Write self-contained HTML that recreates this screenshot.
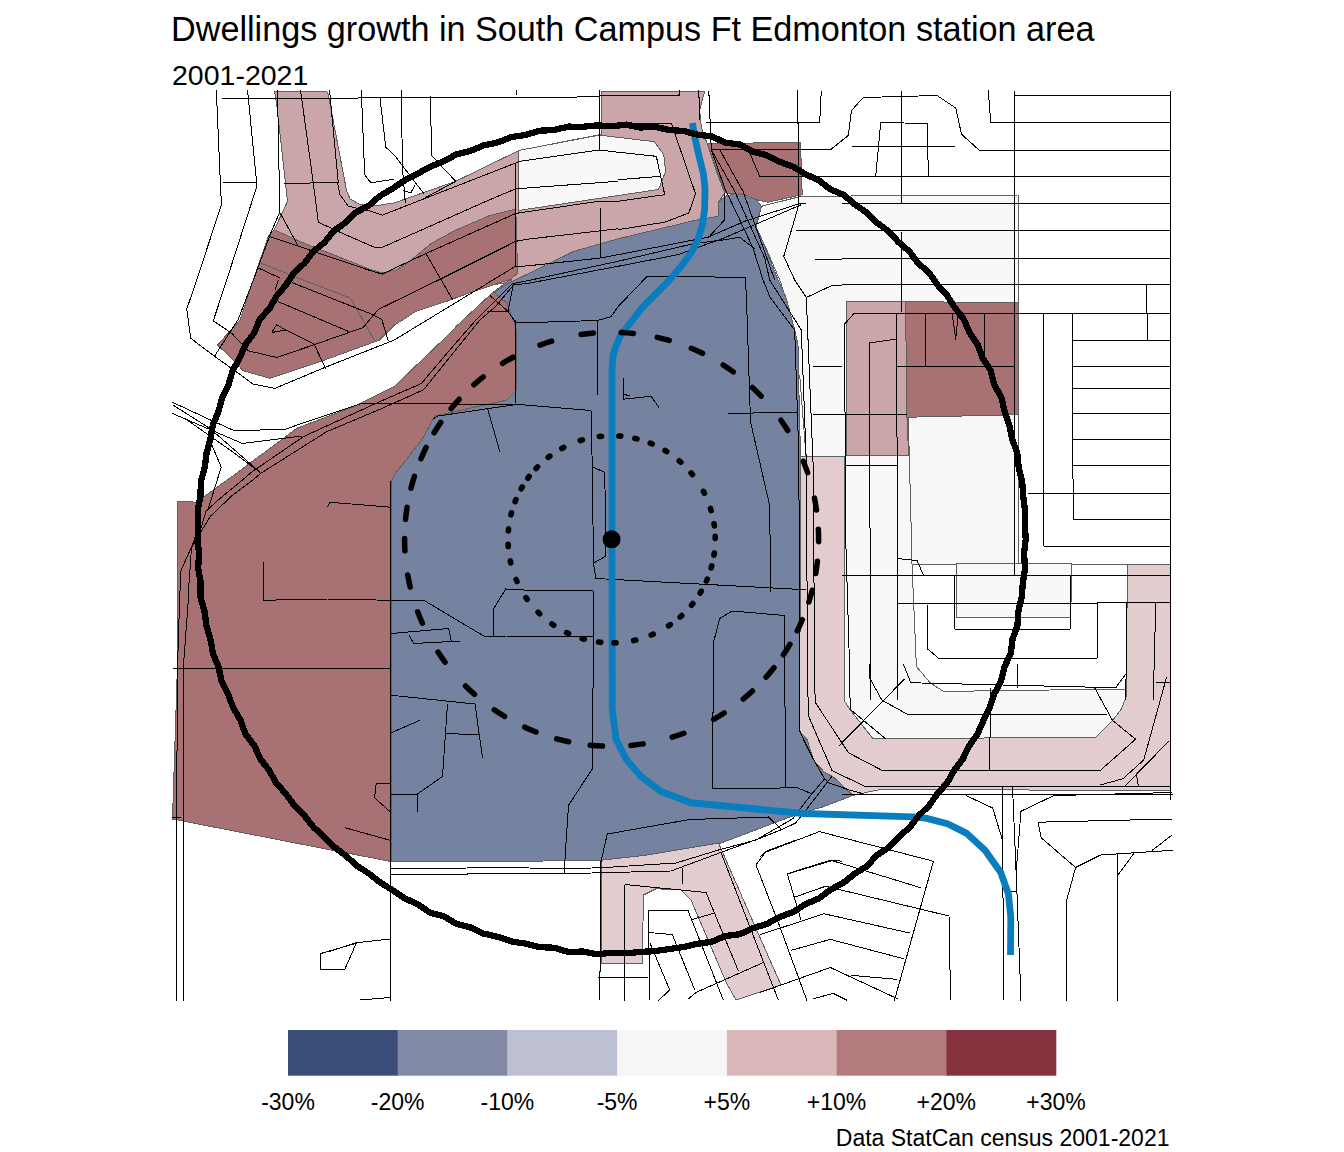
<!DOCTYPE html>
<html><head><meta charset="utf-8"><title>Dwellings growth</title>
<style>html,body{margin:0;padding:0;background:#fff;overflow:hidden}svg{display:block}</style>
</head><body>
<svg width="1344" height="1152" viewBox="0 0 1344 1152">
<rect width="1344" height="1152" fill="#ffffff"/>
<g id="polys" stroke-linejoin="round" shape-rendering="crispEdges">
<polygon points="761.3,206.3 801.3,196.3 1018.25,195 1018.25,563.5 1071.5,563.5 1071.5,617.25 1127,617 1127,739 873,739 849.5,709 844,700 844,456 806,456 799.75,376 798.5,375.5 793.5,328 781,283 766,248 756,228" fill="#f8f8f8" stroke="#5c6060" stroke-width="1"/>
<polygon points="912,564.3 1127,564.3 1127,689 943.5,691.4 930.3,683 916.4,666.4" fill="#ffffff" stroke="#5c6060" stroke-width="1"/>
<polygon points="956.5,563.5 1071.5,563.5 1070.8,617.3 956.5,617.3" fill="#f8f8f8" stroke="#5c6060" stroke-width="1"/>
<polygon points="846.5,301.75 905.75,301.75 908.25,455.5 846.5,455.5" fill="#caa5a9" stroke="#5c6060" stroke-width="1"/>
<polygon points="905.75,301.75 1018.25,302.5 1018.25,414.75 906.5,417.25" fill="#a87275" stroke="#5c6060" stroke-width="1"/>
<polygon points="799.75,456 844,456 844,700 849.5,709 873.25,739 1095.8,737 1112.5,720.4 1120.8,710 1126,697.5 1127.5,564.6 1170.8,564.6 1170.8,790.5 880,789.5 860.9,793.6 852.9,795.4 834.1,777.5 824.3,772.1 813.6,760.5 807.3,740 799.75,731.5" fill="#e3cccd" stroke="#5c6060" stroke-width="1"/>
<polygon points="274.5,91 326.25,91 328.3,94.7 346.7,191.3 350,198.8 360,204.7 377.5,205.5 394,203 455.7,181.3 519,150.5 601.75,134.25 601.75,91 704.75,91 699.7,109.7 700.5,121.3 702.2,129.7 707.2,143.8 714.7,166.3 724.7,193 718,203 718,216.3 600,245 530,272.9 509.7,282.6 505,283 380,300 274.2,229.7 282.5,212.2 287.5,201.3 276.7,103.8" fill="#caa5a9" stroke="#5c6060" stroke-width="1"/>
<polygon points="518.5,150.5 599.5,135.1 654.3,141.7 663.8,154.8 665.6,171.4 658.5,189.5 518.5,210.5" fill="#f8f8f8" stroke="#5c6060" stroke-width="1"/>
<polygon points="274.2,229.7 297.5,240.5 370,269.3 382.2,272.9 396.7,269.9 410.1,260.8 430.8,243.7 455.1,230.4 489.1,215.8 515.8,209.1 517.6,272.9 511,279 470.9,292.3 447.8,300.9 416.2,311.2 394.3,325.2 379.7,340 375,341.7 320,361.7 270,378.3 243.3,370.8 233.3,360 217.5,345 240,320 253.3,280 268.3,236.3" fill="#a87275" stroke="#5c6060" stroke-width="1"/>
<polygon points="707.2,143.8 800.5,142.2 802.2,194.7 768,202.2 756.3,199.7 744.7,194.7 726,193 716,168" fill="#a87275" stroke="#5c6060" stroke-width="1"/>
<polygon points="177.5,501 196.25,502.25 238.3,472 296.7,428.3 353.3,406.7 394,386.7 442.9,340 457.5,325.2 491.5,293.6 506.1,282.6 511,279 520,300 520,420 400,480 391,861.5 332.5,850.25 172.5,819 177.5,664" fill="#a87275" stroke="#5c6060" stroke-width="1"/>
<polygon points="509.7,282.6 530,272.9 574,251.3 618,238.8 698,219.7 718,216.3 718,203 724.7,196.3 734.7,193.8 744.7,194.7 756.3,199.7 761.3,206.3 758.8,216.3 755.5,226.3 761.3,238 778,280 786.3,298.3 794.7,330 798,345 798.8,386.7 800.5,455 799.75,731.5 807.3,740 813.6,760.5 824.3,772.1 834.1,777.5 852.9,795.4 822.5,807 797.5,814.1 718.5,844 646,855.25 601,860.25 506,861.5 391.25,861.5 392,480 395,474 421,441 435,416 507,400 516,391 517,340 515.8,326.4 511,315.4 507.3,303.3 493.9,292.3" fill="#7582a0" stroke="#5c6060" stroke-width="1"/>
<polyline points="260.8,263 303.3,280 350.8,298.3 375,341.7" fill="none" stroke="#5c6060" stroke-width="1"/>
<polyline points="908.25,417 911.5,540 912,564.3" fill="none" stroke="#5c6060" stroke-width="1"/>
<polygon points="601,860.25 646,855.25 718.5,843 752.25,920 781,985 736,1000 726,982 691,900 681,890 656,888.75 643.5,895 642.25,963.75 601,963.75" fill="#e3cccd" stroke="#5c6060" stroke-width="1"/>
</g>
<g id="roads" fill="none" stroke="#000" stroke-width="1" stroke-linejoin="round" shape-rendering="crispEdges">
<polyline points="222.2,98.3 345,98.3 394,97.2 573.2,97.2 599,96 679.75,95.5 679.75,90.5"/>
<polyline points="216.3,90 220.8,193 221.7,203.8 196.7,280 186.7,309.2 190.8,338.3 215,356.7 235,370.8 253.3,384.2 275,388.3 326.7,366.7 394.3,340"/>
<polyline points="247.5,90 256.7,183 256.3,188 226.7,280 213.3,320.8 231.7,333.3 248.3,350.8 276.7,357.5 313.3,345 363.3,327.5 370,319.1 378.5,309.4 440.5,279 515.8,241.3 530,238.9 618,228.8"/>
<polyline points="223,182.5 256.7,182.5"/>
<polyline points="277.5,90 279.2,179.7 279.7,212.2 270.8,233 253.3,280 238.3,319.2 214.2,356.7"/>
<polyline points="279.7,212.2 297.5,244.7"/>
<polyline points="300.5,90 313.3,183 318.3,222.2 341.7,233 374.2,247.2 382.2,247.4 489.1,200 515.7,188.8 618,181.3"/>
<polyline points="284.2,183.3 337.5,182.7 340,194.7 348.3,206.3 370,210.9 382.2,215.2 421,200 455.7,181.3"/>
<polyline points="329.5,90 338.3,182.7"/>
<polyline points="361.3,90 364.7,174.7 370.8,182.7 394,179.3"/>
<polyline points="380,98 385.8,147.2 394,154.7 424,193.8"/>
<polyline points="268.3,236 370,270.5 382.2,274.1 425.9,253.5 515.8,213.4 599,201.3 618,201.3"/>
<polyline points="425.9,253.5 452.6,299.6"/>
<polyline points="258.3,268 280,278"/>
<polyline points="401.5,90 402.3,166.3 405.3,203"/>
<polyline points="430.7,96.3 431,125.5 431.5,155.5 455.7,181.3"/>
<polyline points="403.2,190.5 410.7,193 414.8,185.5"/>
<polyline points="516.5,90 516.5,94.7"/>
<polyline points="599.3,90 599.3,149.7"/>
<polyline points="394,210.5 515.7,163 519.8,161.3 599,150 618,152.2 656.3,156.3 664.7,194.7 618,201.3"/>
<polyline points="515.7,163 515.7,267.2"/>
<polyline points="600.7,208 600.7,258"/>
<polyline points="618,179.7 661.3,176.3"/>
<polyline points="291.7,282.5 371.7,314.2 381.7,319.2 388.3,340.8"/>
<polyline points="278.3,301.7 349.2,331.7"/>
<polyline points="271.7,332.5 276.7,324.7 285.8,330 271.7,332.5"/>
<polyline points="285.8,330 314.2,344.2 325.8,369.2"/>
<polyline points="278.3,280 275,290"/>
<polyline points="172.5,402.25 210,419.75 235,431 286.25,429 305,422.25 350,407.25 360,404 441.9,403.1"/>
<polyline points="172.5,413.5 242.5,443.5 302.5,436"/>
<polyline points="172.5,404.75 210,428.5 260,472.25"/>
<polyline points="185,418.5 230,450 260,472.25"/>
<polyline points="211.25,443.5 221.25,467.25 207.5,511"/>
<polyline points="530,280.2 512.2,283.8 491.5,304.5 476,320 452.5,346.8 421.3,383.6 380,401.5 303.3,436.7 251.7,472 242.5,480 219.6,498.75 206,511.25 200.8,529 193.5,542.5 181,570.6 179.6,600 177.5,668 176.5,840 176.5,1000.5"/>
<polyline points="513.4,285.1 495.2,306.9 479.9,320 453.7,352.4 423.5,389.8 380,409.3 326.7,431.7 260.8,473.3 252.9,480 232.1,495.6 210.2,516.5 200.8,532 191.5,547.7 188.9,584.2 188.3,600 183.3,668 183.3,1000.5"/>
<polyline points="486.6,311.2 507.9,311.2 489.7,295.4"/>
<polyline points="507.9,311.2 513.4,283.8"/>
<polyline points="507.9,311.2 515.8,322.7 530,322.7"/>
<polyline points="618,95.5 678.8,95.5 679.7,90.5"/>
<polyline points="698.8,90.5 699.7,120"/>
<polyline points="708.8,90.5 711.3,149.7 724.7,188 753,248 763,280 770,297 794.7,330 798.8,455 799.75,664 800,731.5 803.75,740 813.6,759.6 824.3,778.4 828.75,782.9 849.3,790 862.7,793.6"/>
<polyline points="711.3,149.7 734.7,191.3 764.7,258 769.7,280 801.3,330 806.3,462"/>
<polyline points="719.7,149.7 743,191.3 774.7,280"/>
<polyline points="705.5,122.2 819.7,122.2 821.3,90.5"/>
<polyline points="797.7,90.5 798.8,204.7 783.8,256.3 794.7,280 806.3,297.5 813,462"/>
<polyline points="711.3,149.7 830.5,149.7 842,140.5"/>
<polyline points="749.7,153 759.7,176.3 842,176.3"/>
<polyline points="796.3,230.5 842,230.5"/>
<polyline points="814.7,259.3 842,259.3"/>
<polyline points="806.3,297.5 831.3,285.8 842,285.8"/>
<polyline points="813,366.3 842,366.3"/>
<polyline points="813,414.2 842,414.2"/>
<polyline points="674.7,133 695.5,193.8 688.8,213 664.7,222.2 618,229.7"/>
<polyline points="618,123 671.3,123 674.7,133"/>
<polyline points="618,152.2 618,152.2"/>
<polyline points="394.3,340 514.6,266.8 530,265.6 600,258.1 618,254.7 708,237.2 744.7,221.3 801.3,203 806.3,203.8"/>
<polyline points="530,280.2 618,261.3 693,243.8 718,240.5 801.3,204.7"/>
<polyline points="513.4,285.1 530,283 618,266.3 678,254.7 714.7,241.3 739.7,237.2 754.7,248.8"/>
<polyline points="708,238 724.7,219.7 724.7,193"/>
<polyline points="618,306.7 647.2,276.3 695.5,276.7 745.5,277.5 747.2,320 750.5,421.7 759.7,462 769.75,506 770.5,592.25"/>
<polyline points="728,413.3 798,412.5"/>
<polyline points="623.8,378.3 623,399.2 651.3,396.3 658.8,407.5"/>
<polyline points="623,394 630,396"/>
<polyline points="506,406 515.5,404.25 591,410.5 592.25,466 593.5,563.5 596,578.5 806,589.75"/>
<polyline points="593,467.25 604.75,472.25 606,556 593,563.5"/>
<polyline points="516,323 597.25,320.5 611,316.75 618,306.7"/>
<polyline points="597.25,320.5 597.25,394.75"/>
<polyline points="515,320 515.5,403.5"/>
<polyline points="506,589.75 593.5,591 593.5,636 543.5,636.5 506,636"/>
<polyline points="593.5,636 592.25,769 568.5,805.25 564,874"/>
<polyline points="713.5,642.25 719.75,618.5 732.25,611 784.75,615.5 784.75,664 785.5,787.75"/>
<polyline points="713.5,642.25 713.5,664 712.25,789 797.25,787.75 812.25,794"/>
<polyline points="441.9,403.1 460.4,404.8 513.9,404.8"/>
<polyline points="487.5,408.5 500,452.25"/>
<polyline points="327.5,507.25 330,502.25 391.25,507.25"/>
<polyline points="263.75,562.25 263.75,600.25 327.5,599 425,601 483.75,636 506,636"/>
<polyline points="391.25,633.5 448.75,628.5 451.25,641.5 413.75,643.5 408.75,634.75"/>
<polyline points="451.25,641.5 460,641"/>
<polyline points="493.75,636 493.75,608.5 506,588.5"/>
<polyline points="432.5,419.3 438,416 513.9,404.8"/>
<polyline points="172.5,668.5 390,668.5"/>
<polyline points="172.3,817.3 180.6,817.3"/>
<polyline points="390.5,481 390.5,1000.5"/>
<polyline points="391.25,695.25 475,704 482.5,757.75"/>
<polyline points="447.5,704 442.5,776.5 417.5,794 391.25,794"/>
<polyline points="445,733.5 480,734.75"/>
<polyline points="391.25,732.75 420,720.25"/>
<polyline points="417,794 417,811.5"/>
<polyline points="390,783.5 376.25,783.5 374.5,797.75 390,811.5"/>
<polyline points="345,827.75 390,840.25"/>
<polyline points="390.5,869 506,867.5 563.5,868.75 601,867.75 676,863 718.5,850 756,840 793,818.6 802.9,805.2 813.6,791.8 824.3,779.3"/>
<polyline points="390.5,874.5 506,873.75 563.5,873.75 601,872.75 671,871 723.5,851.5 760,838.2 782.3,829.3 795.7,823 802,815 809.1,806.1 832.3,775.7"/>
<polyline points="327.5,952 356.25,942.75 390,939"/>
<polyline points="320,953.75 356.25,943.25"/>
<polyline points="356.25,943.25 344.5,970 320.5,969.5 320,953.75"/>
<polyline points="360,1000 390,997.5"/>
<polyline points="607.25,834 689.75,819.5 768.5,817 782.25,830.25"/>
<polyline points="607.25,834 601,861.5 599.75,1000.5"/>
<polyline points="598.5,977 648.5,977.5"/>
<polyline points="624.75,884.5 624.75,1000.5"/>
<polyline points="624.75,884.5 706,892.5 738.5,971.25"/>
<polyline points="682.25,867.5 682.25,884"/>
<polyline points="648.5,910.5 688,910.5 723.5,1000.5"/>
<polyline points="648.5,910.5 649.75,1000.5"/>
<polyline points="648.5,932.5 672.25,934.5 694.75,990"/>
<polyline points="649.75,942.5 669.75,990 658.5,1000.5"/>
<polyline points="692.25,919.5 714.75,913"/>
<polyline points="721,852.5 778.5,1000.5"/>
<polyline points="688.5,998.75 696,992.5 763.5,962.5"/>
<polyline points="756,865 766,851.25 796,840"/>
<polyline points="756,865 778.75,923.75 806.9,1000.5"/>
<polyline points="787.25,873.75 831,860 842,861.25"/>
<polyline points="787.25,873.75 801,920"/>
<polyline points="794.4,897.2 825.6,886.25 949,916 950.6,1000.5"/>
<polyline points="760,856.6 766.25,851.9 819.4,831.6 933.4,861.25 894.4,1000.5"/>
<polyline points="788.1,873.75 831.9,860.6 921,887.8"/>
<polyline points="760,934.7 824,913.75 910,933.1"/>
<polyline points="791.25,950.3 830.3,939.4 903.75,958.75"/>
<polyline points="760,992.5 830.3,967.5 897.5,998.75"/>
<polyline points="850.6,975.3 897.5,979.4"/>
<polyline points="813.1,998.75 833.4,993.4 847.5,1000.5"/>
<polyline points="1002.2,786.25 1003.75,1000.5"/>
<polyline points="1012.5,786.25 1016.9,891 1021,1000.5"/>
<polyline points="966.25,795.6 992.8,808.1 1002.2,839.4"/>
<polyline points="1021,811.25 1016.25,870.6"/>
<polyline points="1021,811.25 1053.75,795.6 1172.5,792.5"/>
<polyline points="842,794 1172.5,794"/>
<polyline points="1038.1,822.2 1172.5,819"/>
<polyline points="1038.1,822.2 1041.25,837.8 1075.6,867.5 1100.6,855 1172.5,850.3"/>
<polyline points="1075.6,867.5 1066.25,901.9 1066.25,1000.5"/>
<polyline points="1117.8,853.4 1117.8,1000.5"/>
<polyline points="1117.8,875.3 1135,851.9"/>
<polyline points="1152.2,850.3 1172.5,834.7"/>
<polyline points="1008.4,891 1016.9,891"/>
<polyline points="842,140.5 848.25,135.5 851.5,110.5 863.25,97.5 937,95.5 955.75,108 961.5,134.25 979,150 1170,150"/>
<polyline points="875.75,176 880.75,122.5 927.5,123.5 928.25,176"/>
<polyline points="852,146.25 954.5,146.25"/>
<polyline points="901.5,90.5 901.5,204.25"/>
<polyline points="901.5,231.75 901.5,311.75"/>
<polyline points="1014.5,90.5 1014.5,575"/>
<polyline points="1170,90.5 1170,308 1170.75,664 1170.75,800"/>
<polyline points="1014.5,95.5 1170,95.5"/>
<polyline points="988.25,90.5 990.75,122.25 1170,122.25"/>
<polyline points="842,176.25 1170,176.25"/>
<polyline points="842,203.5 1170,203.5"/>
<polyline points="842,230.5 1170,230.5"/>
<polyline points="842,259 1170,258.5"/>
<polyline points="842,284.75 1170,284.75"/>
<polyline points="854.5,313 1170,313"/>
<polyline points="854.5,313 844.5,324.25 845.75,540 849.5,664 850.2,709.4 885.8,739"/>
<polyline points="1146.5,284.75 1146.5,313"/>
<polyline points="1147.5,313 1147.5,340.5"/>
<polyline points="1072,340.5 1170,340.5"/>
<polyline points="1072,366.75 1170,366.75"/>
<polyline points="1072,313 1073.25,519 1170.75,519"/>
<polyline points="1043.25,313 1044,546 1170.75,546"/>
<polyline points="984.5,313 984.5,366.75"/>
<polyline points="925.75,313 925.75,366.75"/>
<polyline points="897,366.75 1014.5,366.75"/>
<polyline points="896.5,313 897.5,558.5 897.5,700"/>
<polyline points="869,343 895.75,339.25"/>
<polyline points="869,343 870.75,664 871,700"/>
<polyline points="952,313 955.75,339.25 958.25,313"/>
<polyline points="1072,388.5 1170,388.5"/>
<polyline points="1072,413 1170,413"/>
<polyline points="1072,439.25 1170,439.25"/>
<polyline points="1072,465.25 1170,465.25"/>
<polyline points="1028.25,493 1170.75,493"/>
<polyline points="842,414.75 906.5,414.75"/>
<polyline points="845.75,465.5 897,465.5"/>
<polyline points="897.5,558.5 917,560.5 923.25,574.75"/>
<polyline points="842,575.25 1170.75,575.25"/>
<polyline points="897.5,604 1097,603 1170.75,602.25"/>
<polyline points="954.5,576 954.5,629 1070,629 1070.75,574.75"/>
<polyline points="927,604.75 927,648.5 938.25,658 1097,658 1097,603"/>
<polyline points="1127,602.25 1125.75,700"/>
<polyline points="1155.75,603.5 1153.25,700"/>
<polyline points="806.3,462 807.5,664 808.3,715.6 832.1,770.7 866.3,787 1170.8,786.5"/>
<polyline points="813,462 814.7,664 815.1,702.2 848.5,752.8 882.7,770.7 1100,770.7 1135.6,739.2 1112.5,720.4 1094.8,688.1"/>
<polyline points="869.5,664 869.5,677.75 882,700.25 907,714 1107,714"/>
<polyline points="903.25,664 910.75,682.75 1115.75,687.75 1125.75,674"/>
<polyline points="838.9,745.9 904.5,679"/>
<polyline points="990.75,687.75 989.5,770.25"/>
<polyline points="1017,664 1017,687.75"/>
<polyline points="1166.7,676.7 1143.75,760 1122.9,778.75 1100,785"/>
<polyline points="1168.75,741.25 1125,786"/>
<polyline points="1136.5,774.6 1138.5,787"/>
<polyline points="1155.75,682.75 1170.75,682.75"/>
</g>
<polyline points="692.5,123 694.6,136.7 699.4,157.5 703.5,174.2 705,188.75 704.6,209.6 702.5,224.2 698.3,238.75 692.1,251.25 681.7,265.8 669.2,280.4 654.6,295 642.1,307.5 632.6,320 624,331 619.8,337.1 615.5,347 613,356 612,370 612,540 612.25,709 616,739 626,759 641,776.5 661,791.5 691,802.75 756,809 803.5,813.5 913.1,816.9 925.6,818.1 947.5,823.75 966.25,833.1 985,850.3 1000.6,872.2 1008.4,894 1010.8,917.5 1010.5,955" fill="none" stroke="#0a7dbe" stroke-width="6.8" stroke-linejoin="round"/>
<polygon points="1025.73,539.3 1023.99,553.7 1025.1,568.21 1022.87,582.53 1021.76,596.94 1018.43,611.04 1017.42,625.56 1012.52,639.26 1010.68,653.73 1004.41,666.93 1001.13,681.08 994.25,693.9 989.77,707.67 983.38,720.63 977.54,733.87 969.23,745.78 962.87,758.8 954.18,770.38 947.08,783.04 937.37,793.82 929.03,805.66 918.64,815.76 909.76,827.23 898.87,836.78 889.01,847.39 876.71,855.24 866.98,866.17 854.62,873.78 843.35,882.88 830.49,889.59 818.96,898.46 805.55,904.07 793.36,911.97 779.73,916.93 766.97,923.86 753.1,928.07 739.91,934.2 725.36,936.03 711.92,941.68 697.57,943.78 683.49,946.99 669.19,949.07 654.88,951.11 640.45,951.93 626.06,953.29 611.6,952.83 597.11,954.27 582.77,951.56 568.23,951.92 554.19,947.77 539.69,947.11 525.65,943.64 511.34,941.44 497.63,936.77 483.49,933.59 470.34,927.42 456.23,923.84 443.78,916.23 429.59,912.48 417.62,904.13 404.38,898.21 392.41,890.07 380.18,882.39 368.8,873.48 356.69,865.57 345.99,855.85 334.47,847.09 324.06,837.05 313.54,827.13 304.52,815.8 294.36,805.5 285.83,793.82 276.2,782.98 269.12,770.31 260.29,758.82 254.28,745.6 245.44,733.99 240.57,720.26 233.23,707.76 228.08,694.25 221.54,681.27 218.59,667 213.03,653.59 210.44,639.32 206.44,625.42 204.45,611.09 200.45,597.08 200.68,582.49 198.19,568.21 199.03,553.71 197.57,539.3 198.29,524.87 197.7,510.36 200.53,496.09 200.81,481.57 204.75,467.56 206.56,453.21 210.39,439.27 212.81,424.95 218.46,411.56 222.14,397.55 228.53,384.53 232.67,370.59 239.75,357.94 245.36,344.57 254.18,332.94 259.67,319.39 269.47,308.53 276.68,295.97 286.01,284.92 293.95,272.76 304.7,262.97 313.4,251.33 324.72,242.22 333.83,230.8 345.74,222.47 356.14,212.33 369.05,205.46 379.97,195.9 392.49,188.66 404.43,180.46 417.3,173.87 429.91,166.79 443.4,161.53 456.15,154.55 470.27,151 483.62,145.42 497.79,142.38 511.32,137.08 525.65,134.92 539.56,130.76 554.07,129.99 568.23,126.63 582.75,126.76 597.14,125.35 611.6,126.32 626.08,124.63 640.4,127.49 654.95,126.86 669.13,129.95 683.6,130.99 697.6,134.7 712.03,136.49 725.33,142.68 739.87,144.51 752.7,151.62 766.79,155.2 779.69,161.77 793.29,166.79 805.66,174.32 818.88,180.28 830.3,189.31 843.88,194.94 854.86,204.49 866.81,212.65 877.16,222.82 888.81,231.43 898.5,242.2 909.55,251.57 918.17,263.26 929.2,272.8 937.35,284.79 947.12,295.53 954.83,307.79 963.8,319.22 969.49,332.67 977.62,344.69 982.79,358.26 990.69,370.52 994.25,384.7 1001.35,397.44 1004.7,411.57 1009.42,425.23 1012.3,439.39 1017.26,453.07 1018.7,467.52 1022.22,481.59 1023.21,496.04 1025.01,510.39 1024.92,524.87" fill="none" stroke="#000" stroke-width="6.3" stroke-linejoin="miter" stroke-miterlimit="2" shape-rendering="crispEdges"/>
<g fill="none" stroke="#000" stroke-width="5.5" stroke-linecap="round"><path d="M621.21 332.52A207 207 0 0 1 633.45 333.46"/><path d="M657.28 337.40A207 207 0 0 1 669.18 340.47"/><path d="M691.35 348.28A207 207 0 0 1 702.54 353.34"/><path d="M723.19 364.95A207 207 0 0 1 733.33 371.88"/><path d="M752.38 387.54A207 207 0 0 1 761.13 396.16"/><path d="M780.96 420.27A207 207 0 0 1 787.72 430.53"/><path d="M803.31 461.22A207 207 0 0 1 807.60 472.73"/><path d="M814.42 497.92A207 207 0 0 1 816.52 510.03"/><path d="M818.36 529.37A207 207 0 0 1 818.59 541.65"/><path d="M817.43 561.30A207 207 0 0 1 815.76 573.46"/><path d="M812.25 590.18A207 207 0 0 1 808.88 601.99"/><path d="M802.34 619.72A207 207 0 0 1 797.24 630.89"/><path d="M789.94 644.39A207 207 0 0 1 783.39 654.78"/><path d="M773.98 667.68A207 207 0 0 1 766.08 677.08"/><path d="M752.40 691.03A207 207 0 0 1 743.16 699.12"/><path d="M724.16 713.02A207 207 0 0 1 713.66 719.39"/><path d="M683.86 733.28A207 207 0 0 1 672.22 737.22"/><path d="M643.13 743.89A207 207 0 0 1 630.94 745.39"/><path d="M602.46 746.10A207 207 0 0 1 590.21 745.19"/><path d="M568.63 741.79A207 207 0 0 1 556.70 738.89"/><path d="M536.04 732.02A207 207 0 0 1 524.74 727.19"/><path d="M504.55 716.47A207 207 0 0 1 494.23 709.81"/><path d="M474.52 694.41A207 207 0 0 1 465.56 686.00"/><path d="M445.03 662.20A207 207 0 0 1 438.03 652.10"/><path d="M422.38 623.23A207 207 0 0 1 417.73 611.86"/><path d="M410.19 587.10A207 207 0 0 1 407.71 575.07"/><path d="M404.92 550.82A207 207 0 0 1 404.60 538.54"/><path d="M405.55 519.50A207 207 0 0 1 407.09 507.31"/><path d="M411.00 488.21A207 207 0 0 1 414.39 476.40"/><path d="M420.97 458.62A207 207 0 0 1 426.09 447.45"/><path d="M434.13 432.75A207 207 0 0 1 440.76 422.41"/><path d="M451.12 408.55A207 207 0 0 1 459.15 399.27"/><path d="M473.84 384.79A207 207 0 0 1 483.25 376.90"/><path d="M502.52 363.37A207 207 0 0 1 513.15 357.21"/><path d="M539.95 345.09A207 207 0 0 1 551.60 341.19"/><path d="M581.18 334.55A207 207 0 0 1 593.38 333.10"/></g>
<g fill="none" stroke="#000" stroke-width="5.6" stroke-linecap="round"><path d="M618.65 435.94L620.81 436.11"/><path d="M634.90 438.36L637.01 438.87"/><path d="M650.24 443.18L652.25 444.01"/><path d="M664.96 450.50L666.81 451.63"/><path d="M679.23 460.82L680.85 462.25"/><path d="M691.08 472.85L692.45 474.52"/><path d="M703.41 491.30L704.40 493.24"/><path d="M710.51 508.49L711.14 510.57"/><path d="M714.02 523.74L714.33 525.89"/><path d="M715.15 536.23L715.20 538.40"/><path d="M714.29 552.98L713.98 555.13"/><path d="M711.74 565.85L711.16 567.94"/><path d="M707.28 579.03L706.43 581.02"/><path d="M701.27 591.18L700.17 593.04"/><path d="M692.86 603.57L691.49 605.25"/><path d="M681.71 615.57L680.10 617.02"/><path d="M670.35 624.63L668.55 625.84"/><path d="M653.21 634.18L651.21 635.03"/><path d="M635.75 640.05L633.63 640.53"/><path d="M616.06 642.80L613.90 642.87"/><path d="M600.72 642.33L598.56 642.08"/><path d="M584.30 639.24L582.21 638.64"/><path d="M568.56 633.53L566.59 632.61"/><path d="M553.74 625.24L551.96 624.01"/><path d="M539.67 613.86L538.13 612.34"/><path d="M527.19 599.37L525.96 597.59"/><path d="M516.98 581.49L516.12 579.50"/><path d="M510.75 562.99L510.27 560.88"/><path d="M508.25 546.53L508.12 544.36"/><path d="M508.33 530.99L508.53 528.83"/><path d="M510.93 514.83L511.46 512.73"/><path d="M515.10 501.62L515.91 499.60"/><path d="M521.19 488.71L522.27 486.83"/><path d="M527.87 478.29L529.17 476.55"/><path d="M536.02 468.45L537.52 466.88"/><path d="M548.16 457.40L549.89 456.09"/><path d="M561.79 448.46L563.70 447.44"/><path d="M580.27 440.55L582.35 439.92"/><path d="M599.39 436.42L601.54 436.19"/></g>
<circle cx="611.6" cy="539.3" r="9" fill="#000"/>
<g font-family="'Liberation Sans', Arial, sans-serif" fill="#000">
<text x="171" y="40.5" font-size="34.2">Dwellings growth in South Campus Ft Edmonton station area</text>
<text x="172" y="84.5" font-size="28.5">2001-2021</text>
<rect x="288.00" y="1030" width="110.01" height="45.7" fill="#3a4d78"/><rect x="397.71" y="1030" width="110.01" height="45.7" fill="#8189a7"/><rect x="507.43" y="1030" width="110.01" height="45.7" fill="#bcc0d2"/><rect x="617.14" y="1030" width="110.01" height="45.7" fill="#f6f6f6"/><rect x="726.86" y="1030" width="110.01" height="45.7" fill="#dab8ba"/><rect x="836.57" y="1030" width="110.01" height="45.7" fill="#b37b7e"/><rect x="946.29" y="1030" width="110.01" height="45.7" fill="#85313e"/>
<g font-size="23"><text x="288.00" y="1110" text-anchor="middle">-30%</text><text x="397.71" y="1110" text-anchor="middle">-20%</text><text x="507.43" y="1110" text-anchor="middle">-10%</text><text x="617.14" y="1110" text-anchor="middle">-5%</text><text x="726.86" y="1110" text-anchor="middle">+5%</text><text x="836.57" y="1110" text-anchor="middle">+10%</text><text x="946.29" y="1110" text-anchor="middle">+20%</text><text x="1056.00" y="1110" text-anchor="middle">+30%</text></g>
<text x="1169.5" y="1146.4" font-size="23" text-anchor="end">Data StatCan census 2001-2021</text>
</g>
</svg>
</body></html>
